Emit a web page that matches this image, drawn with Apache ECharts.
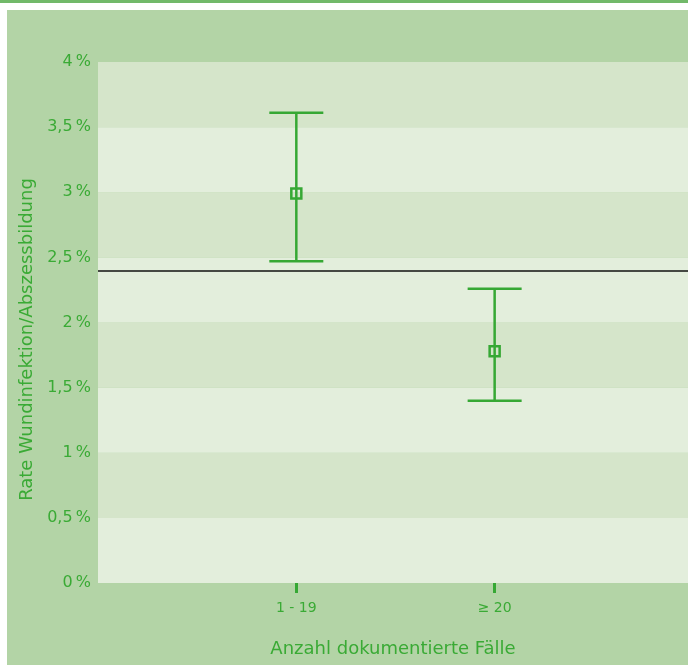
<!DOCTYPE html>
<html><head><meta charset="utf-8">
<script src="https://cdn.jsdelivr.net/npm/echarts@6/dist/echarts.min.js"></script>
<style>html,body{margin:0;padding:0;background:#fff}#c{width:688px;height:665px}</style>
</head><body><div id="c"></div>
<script>
var categories = ['1 - 19', '≥ 20'];
var categoryPos = [1, 2];
var means = [2.99, 1.78];
var lowers = [2.47, 1.40];
var uppers = [3.61, 2.26];
var referenceValue = 2.40;

var GREEN = '#36a834';
var TXT = '#3aaa35';
var chart = echarts.init(document.getElementById('c'), null, {renderer: 'canvas'});

var errData = categoryPos.map(function (x, i) { return [x, lowers[i], uppers[i]]; });
var meanData = categoryPos.map(function (x, i) { return [x, means[i]]; });

chart.setOption({
  backgroundColor: '#ffffff',
  animation: false,
  graphic: [
    {type: 'rect', z: -10, shape: {x: 0, y: 0, width: 688, height: 3}, style: {fill: '#72b96a'}},
    {type: 'rect', z: -10, shape: {x: 7, y: 10, width: 681, height: 655}, style: {fill: '#b3d4a6'}}
  ],
  grid: {left: 98, right: 0, top: 62, bottom: 82, containLabel: false},
  xAxis: {
    type: 'value', min: 0, max: 2.975, interval: 1,
    name: 'Anzahl dokumentierte Fälle', nameLocation: 'middle', nameGap: 57,
    nameTextStyle: {color: TXT, fontSize: 18, fontFamily: 'DejaVu Sans'},
    axisLine: {show: false},
    splitLine: {show: false},
    axisTick: {show: true, customValues: categoryPos, length: 10, lineStyle: {color: GREEN, width: 3}},
    axisLabel: {
      customValues: categoryPos, margin: 18, color: TXT, fontSize: 14, fontFamily: 'DejaVu Sans',
      formatter: function (v) { var i = categoryPos.indexOf(Math.round(v)); return i >= 0 ? categories[i] : ''; }
    }
  },
  yAxis: {
    type: 'value', min: 0, max: 4, interval: 0.5,
    name: 'Rate Wundinfektion/Abszessbildung', nameLocation: 'middle', nameGap: 52, nameRotate: 90,
    nameTextStyle: {color: TXT, fontSize: 18, fontFamily: 'DejaVu Sans', padding: [0, 34, 0, 0]},
    axisLine: {show: false}, axisTick: {show: false},
    splitLine: {show: false},
    splitArea: {show: true, areaStyle: {color: ['#e3eedc', '#d5e5ca']}},
    axisLabel: {
      margin: 7, color: TXT, fontSize: 16, fontFamily: 'DejaVu Sans',
      formatter: function (v) { return String(v).replace('.', ',') + '\u2009%'; }
    }
  },
  series: [
    {
      type: 'custom',
      data: errData,
      z: 3,
      renderItem: function (params, api) {
        var x = api.value(0);
        var lo = api.coord([x, api.value(1)]);
        var hi = api.coord([x, api.value(2)]);
        var hw = 27;
        var st = {stroke: GREEN, lineWidth: 2.5, fill: null};
        return {
          type: 'group',
          children: [
            {type: 'line', shape: {x1: hi[0], y1: hi[1], x2: lo[0], y2: lo[1]}, style: st},
            {type: 'line', shape: {x1: hi[0] - hw, y1: hi[1], x2: hi[0] + hw, y2: hi[1]}, style: st},
            {type: 'line', shape: {x1: lo[0] - hw, y1: lo[1], x2: lo[0] + hw, y2: lo[1]}, style: st}
          ]
        };
      },
      markLine: {
        silent: true, symbol: 'none', label: {show: false},
        lineStyle: {color: '#111', width: 1.5, type: 'solid'},
        data: [{yAxis: referenceValue}]
      }
    },
    {
      type: 'scatter',
      data: meanData,
      z: 4,
      symbol: 'rect', symbolSize: 10,
      itemStyle: {color: 'rgba(0,0,0,0)', borderColor: GREEN, borderWidth: 2.5, opacity: 1}
    }
  ]
});
</script></body></html>
